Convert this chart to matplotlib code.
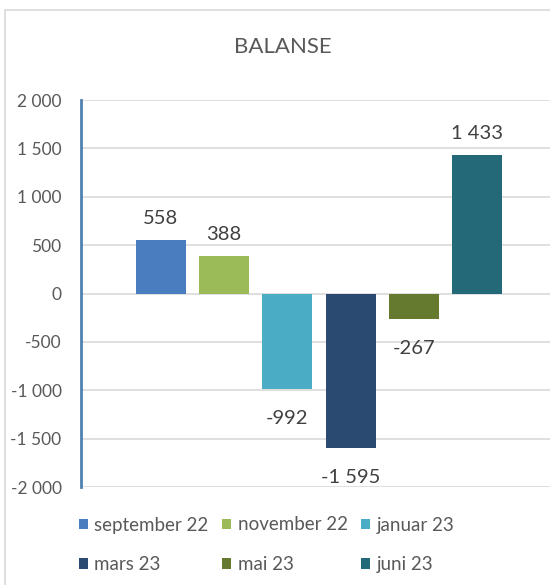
import matplotlib
matplotlib.use("Agg")
import matplotlib.pyplot as plt
from matplotlib.patches import Rectangle

plt.rcParams['font.family'] = ['Lato', 'DejaVu Sans']

title = "BALANSE"
series_names = ["september 22", "november 22", "januar 23", "mars 23", "mai 23", "juni 23"]
values = [558, 388, -992, -1595, -267, 1433]
colors = ["#4a7dbf", "#9bbb59", "#4aacc5", "#2a4a72", "#657a2e", "#236978"]
yticks = [-2000, -1500, -1000, -500, 0, 500, 1000, 1500, 2000]


def fmt(v):
    s = f"{abs(v):,}".replace(",", " ")
    return ("-" if v < 0 else "") + s


W, H = 550, 585
fig = plt.figure(figsize=(W / 100, H / 100), dpi=100)
fig.patch.set_facecolor("white")

# chart border
fig.patches.append(Rectangle((5 / W, -0.1), 1.2, (H - 10) / H + 0.1,
                             transform=fig.transFigure, fill=False,
                             edgecolor="#d9d9d9", linewidth=1.2))

left_px, right_px = 81, 550
top_px, bot_px = 100, 487
ax = fig.add_axes([left_px / W, (H - bot_px) / H,
                   (right_px - left_px) / W, (bot_px - top_px) / H])

spacing = 63.2
x0 = -(161 - left_px) / spacing
x1 = (right_px - 161) / spacing
xs = list(range(len(values)))

bars = []
for i, (name, v, c) in enumerate(zip(series_names, values, colors)):
    b = ax.bar(xs[i], v, width=50 / spacing, color=c, label=name, zorder=3)
    bars.append(b)
    if v >= 0:
        ax.annotate(fmt(v), (xs[i], v), xytext=(0, 11.5), textcoords="offset points",
                    ha="center", va="baseline", fontsize=14.5, color="#404040")
    else:
        ax.annotate(fmt(v), (xs[i], v), xytext=(0, -25), textcoords="offset points",
                    ha="center", va="baseline", fontsize=14.5, color="#404040")

ax.set_xlim(x0, x1)
ax.set_ylim(-2000, 2000)
ax.set_yticks(yticks)
ax.set_yticklabels([fmt(t) for t in yticks])
ax.tick_params(axis="y", length=0, pad=14, labelsize=12.5, labelcolor="#595959")
ax.set_xticks([])
ax.yaxis.grid(True, color="#d9d9d9", linewidth=1.2, zorder=0)
for s in ["top", "right", "bottom"]:
    ax.spines[s].set_visible(False)
ax.spines["left"].set_color("#4f81b0")
ax.spines["left"].set_linewidth(2)
ax.spines["left"].set_zorder(4)
ax.set_facecolor("none")

fig.text(283 / W, 1 - 47 / H, title, ha="center", va="center",
         fontsize=16, color="#595959")

# legend filled row by row (matplotlib fills column-first)
order = [0, 3, 1, 4, 2, 5]
leg = fig.legend(handles=[bars[i][0] for i in order],
                 labels=[series_names[i] for i in order], ncol=3,
                 loc="upper left", bbox_to_anchor=(71 / W, 1 - 509 / H),
                 frameon=False, fontsize=13.5, handlelength=0.5, handleheight=0.5,
                 handletextpad=0.35, columnspacing=0.7, labelspacing=1.2,
                 labelcolor="#595959", borderaxespad=0)

fig.savefig("out.png", dpi=100)
